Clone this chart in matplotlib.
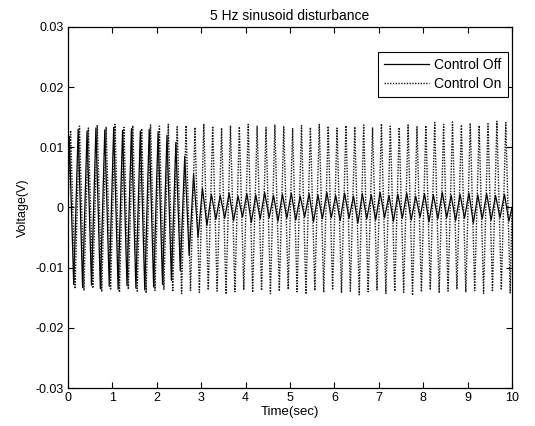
import numpy as np
import matplotlib
matplotlib.use("Agg")
import matplotlib.pyplot as plt

plt.rcParams['font.family'] = ['Liberation Sans', 'DejaVu Sans']

title = "5 Hz sinusoid disturbance"
xlabel = "Time(sec)"
ylabel = "Voltage(V)"
series_names = ["Control Off", "Control On"]
xticks = [0, 1, 2, 3, 4, 5, 6, 7, 8, 9, 10]
yticks = [-0.03, -0.02, -0.01, 0, 0.01, 0.02, 0.03]
yticklabels = ["-0.03", "-0.02", "-0.01", "0", "0.01", "0.02", "0.03"]

period = 0.2  # 5 Hz

# Control On (dotted): per-cycle positive peaks and negative troughs
on_peaks = [0.0128, 0.0135, 0.0132, 0.0137, 0.0134, 0.0138, 0.0133, 0.0136, 0.0131, 0.0137,
            0.0135, 0.0138, 0.0134, 0.0136, 0.0133, 0.0139, 0.0135, 0.0132, 0.0136, 0.0134,
            0.0138, 0.0135, 0.0133, 0.0137, 0.0134, 0.0131, 0.0136, 0.0133, 0.0138, 0.0135,
            0.0132, 0.0136, 0.0134, 0.0137, 0.0133, 0.0139, 0.0135, 0.0133, 0.0137, 0.0134,
            0.0136, 0.0141, 0.0138, 0.0142, 0.0137, 0.0140, 0.0136, 0.0139, 0.0143, 0.0141]
on_troughs = [-0.0135, -0.0138, -0.0134, -0.0140, -0.0137, -0.0141, -0.0136, -0.0139, -0.0142, -0.0138,
              -0.0136, -0.0140, -0.0143, -0.0138, -0.0141, -0.0137, -0.0139, -0.0144, -0.0140, -0.0137,
              -0.0141, -0.0138, -0.0143, -0.0139, -0.0136, -0.0140, -0.0144, -0.0138, -0.0141, -0.0137,
              -0.0142, -0.0139, -0.0145, -0.0140, -0.0137, -0.0143, -0.0139, -0.0141, -0.0146, -0.0140,
              -0.0137, -0.0142, -0.0139, -0.0136, -0.0141, -0.0138, -0.0143, -0.0140, -0.0137, -0.0142]

# Control Off (solid): per-cycle positive peaks and negative troughs
off_peaks = [0.0118, 0.0130, 0.0127, 0.0132, 0.0129, 0.0133, 0.0128, 0.0131, 0.0127, 0.0130,
             0.0126, 0.0120, 0.0108, 0.0085, 0.0055, 0.0032, 0.0022, 0.0020, 0.0024, 0.0019,
             0.0023, 0.0021, 0.0025, 0.0020, 0.0022, 0.0024, 0.0019, 0.0023, 0.0021, 0.0025,
             0.0020, 0.0024, 0.0019, 0.0023, 0.0021, 0.0025, 0.0020, 0.0022, 0.0024, 0.0019,
             0.0023, 0.0021, 0.0025, 0.0020, 0.0022, 0.0024, 0.0021, 0.0023, 0.0020, 0.0022]
off_troughs = [-0.0128, -0.0133, -0.0129, -0.0135, -0.0131, -0.0136, -0.0130, -0.0134, -0.0137, -0.0132,
               -0.0128, -0.0121, -0.0105, -0.0080, -0.0050, -0.0030, -0.0020, -0.0018, -0.0022, -0.0016,
               -0.0025, -0.0019, -0.0017, -0.0023, -0.0018, -0.0021, -0.0016, -0.0024, -0.0019, -0.0017,
               -0.0022, -0.0018, -0.0026, -0.0019, -0.0021, -0.0017, -0.0023, -0.0018, -0.0021, -0.0016,
               -0.0024, -0.0019, -0.0017, -0.0022, -0.0018, -0.0026, -0.0019, -0.0021, -0.0017, -0.0023]

on_phase = 0.06
off_phase = 0.03


def build(peaks, troughs, phase):
    t = [0.0]
    v = [0.0]
    for k, (p, q) in enumerate(zip(peaks, troughs)):
        t += [k * period + phase, k * period + phase + period / 2]
        v += [p, q]
    t.append(10.0)
    v.append(0.0)
    return np.array(t), np.array(v)


t_on, v_on = build(on_peaks, on_troughs, on_phase)
t_off, v_off = build(off_peaks, off_troughs, off_phase)

fig = plt.figure(figsize=(5.35, 4.26), dpi=100)
ax = fig.add_axes([0.127, 0.089, 0.830, 0.848])

ax.plot(t_off, v_off, color='black', linewidth=0.9, linestyle='-', label=series_names[0])
ax.plot(t_on, v_on, color='0.1', linewidth=1.0, linestyle=(0, (1, 1)), label=series_names[1])

ax.set_xlim(0, 10)
ax.set_ylim(-0.03, 0.03)
ax.set_xticks(xticks)
ax.set_xticklabels([str(x) for x in xticks])
ax.set_yticks(yticks)
ax.set_yticklabels(yticklabels)
ax.tick_params(direction='in', top=True, right=True, length=4, width=0.8,
               labelsize=9, pad=3)
for s in ax.spines.values():
    s.set_linewidth(0.9)

ax.set_title(title, fontsize=10, pad=5)
ax.set_xlabel(xlabel, fontsize=9.5, labelpad=1)
ax.set_ylabel(ylabel, fontsize=9, labelpad=5)

leg = ax.legend(loc='upper right', bbox_to_anchor=(0.991, 0.931), borderaxespad=0,
                fontsize=10, fancybox=False, framealpha=1, edgecolor='black',
                handlelength=3.2, handletextpad=0.4, borderpad=0.45, labelspacing=0.35)
leg.get_frame().set_linewidth(0.8)

fig.savefig("out.png", dpi=100)
